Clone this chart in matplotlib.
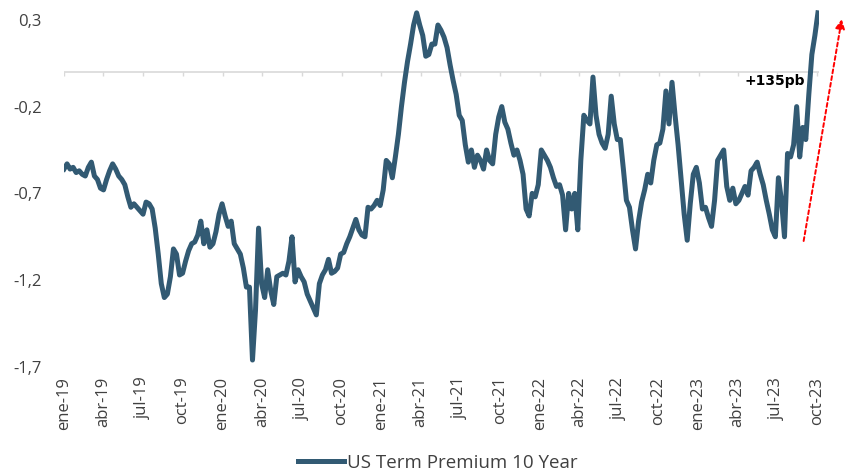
import matplotlib
matplotlib.use("Agg")
import matplotlib.pyplot as plt
import pandas as pd

plt.rcParams['font.family'] = ['Open Sans', 'DejaVu Sans']

# Prima por plazo 10 años EEUU, serie semanal
START = "2019-01-01"
TERM_PREMIUM = [
    -0.56, -0.53, -0.56, -0.55, -0.58, -0.57, -0.59, -0.60, -0.55, -0.52,
    -0.60, -0.62, -0.67, -0.68, -0.62, -0.57, -0.53, -0.56, -0.60, -0.62,
    -0.65, -0.72, -0.78, -0.76, -0.78, -0.80, -0.82, -0.75, -0.76, -0.79,
    -0.90, -1.05, -1.22, -1.30, -1.28, -1.18, -1.02, -1.05, -1.17, -1.16,
    -1.09, -1.03, -0.99, -0.98, -0.94, -0.86, -0.99, -0.91, -1.01, -0.99,
    -0.92, -0.82, -0.76, -0.83, -0.89, -0.86, -0.99, -1.02, -1.05, -1.13,
    -1.24, -1.24, -1.66, -1.37, -0.90, -1.22, -1.30, -1.14, -1.26, -1.34,
    -1.18, -1.17, -1.16, -1.17, -1.09, -0.95, -1.21, -1.14, -1.18, -1.21,
    -1.28, -1.32, -1.36, -1.40, -1.22, -1.17, -1.14, -1.08, -1.16, -1.15,
    -1.13, -1.05, -1.04, -0.99, -0.95, -0.90, -0.85, -0.91, -0.94, -0.95,
    -0.78, -0.79, -0.77, -0.74, -0.77, -0.68, -0.51, -0.53, -0.61, -0.49,
    -0.36, -0.20, -0.06, 0.06, 0.16, 0.27, 0.34, 0.27, 0.21, 0.09,
    0.10, 0.16, 0.16, 0.27, 0.24, 0.20, 0.14, 0.04, -0.05, -0.13,
    -0.25, -0.28, -0.42, -0.52, -0.45, -0.55, -0.48, -0.51, -0.56, -0.45,
    -0.51, -0.53, -0.36, -0.26, -0.20, -0.29, -0.33, -0.41, -0.48, -0.45,
    -0.51, -0.59, -0.79, -0.83, -0.70, -0.72, -0.65, -0.45, -0.48, -0.51,
    -0.55, -0.61, -0.66, -0.65, -0.71, -0.91, -0.70, -0.79, -0.70, -0.91,
    -0.51, -0.25, -0.28, -0.30, -0.03, -0.25, -0.36, -0.41, -0.44, -0.36,
    -0.14, -0.30, -0.39, -0.39, -0.56, -0.74, -0.78, -0.91, -1.02, -0.86,
    -0.75, -0.68, -0.59, -0.64, -0.51, -0.42, -0.41, -0.33, -0.11, -0.30,
    -0.06, -0.25, -0.42, -0.62, -0.82, -0.97, -0.76, -0.59, -0.55, -0.64,
    -0.79, -0.78, -0.84, -0.89, -0.74, -0.51, -0.48, -0.45, -0.66, -0.74,
    -0.67, -0.76, -0.74, -0.70, -0.66, -0.71, -0.57, -0.55, -0.52, -0.59,
    -0.65, -0.74, -0.82, -0.91, -0.95, -0.61, -0.74, -0.95, -0.47, -0.49,
    -0.42, -0.20, -0.49, -0.32, -0.39, -0.13, 0.10, 0.21, 0.34,
]
Y_TICKS = [-1.7, -1.2, -0.7, -0.2, 0.3]
MESES = {1: "ene", 4: "abr", 7: "jul", 10: "oct"}

dates = pd.date_range(START, periods=len(TERM_PREMIUM), freq="7D")
serie = pd.Series(TERM_PREMIUM, index=dates)

fig = plt.figure(figsize=(8.5, 4.72), dpi=100)
ax = fig.add_axes([0.0753, 0.2225, 0.888, 0.765])

ax.plot(serie.index, serie.values, color="#325A73", lw=3.6,
        solid_joinstyle="round", label="US Term Premium 10 Year", zorder=3)

# eje horizontal en cero con marcas trimestrales
quarters = pd.date_range("2019-01-01", "2023-10-01", freq="QS")
ax.axhline(0, color="#D9D9D9", lw=1.2, zorder=1)
ax.vlines(quarters, -0.022, 0, color="#D9D9D9", lw=1.0, zorder=1)

ax.set_xlim(pd.Timestamp("2019-01-01"), pd.Timestamp("2023-10-05"))
ax.set_ylim(-1.7, 0.38)
ax.set_xticks(quarters)
ax.set_xticklabels([f"{MESES[d.month]}-{d.strftime('%y')}" for d in quarters],
                   rotation=90, fontsize=12, color="#404040")
ax.set_yticks(Y_TICKS)
ax.set_yticklabels([f"{v:.1f}".replace(".", ",") for v in Y_TICKS],
                   fontsize=12, color="#404040")
ax.tick_params(axis="x", length=0, pad=7)
ax.tick_params(axis="y", length=0, pad=16)
for s in ax.spines.values():
    s.set_visible(False)

ax.text(pd.Timestamp("2023-04-16"), -0.01, "+135pb", fontsize=10,
        fontweight="bold", family="DejaVu Sans", ha="left", va="top", zorder=4)
ax.annotate("", xy=(pd.Timestamp("2023-11-28"), 0.32),
            xytext=(pd.Timestamp("2023-08-30"), -0.99),
            arrowprops=dict(arrowstyle="-|>", color="#FF0000", lw=1.4,
                            linestyle=(0, (2, 1.5)), mutation_scale=14),
            annotation_clip=False)

fig.legend(loc="lower center", bbox_to_anchor=(0.515, -0.035), frameon=False,
           fontsize=13.5, handlelength=2.5, handletextpad=0.15,
           labelcolor="#404040")

fig.savefig("out.png", dpi=100)
